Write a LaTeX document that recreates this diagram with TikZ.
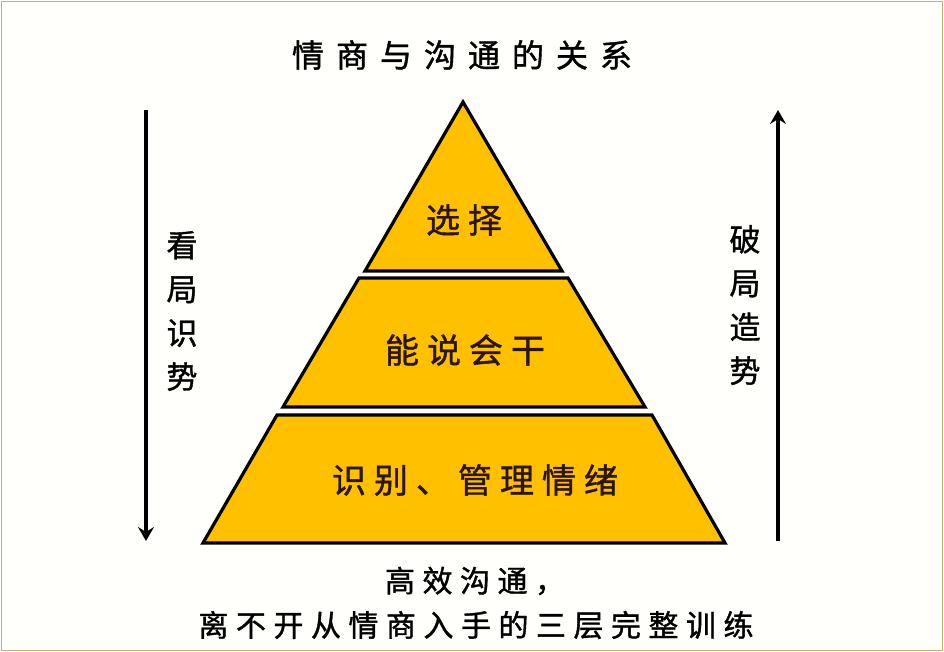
\documentclass[tikz,border=0pt]{standalone}
\usepackage{fontspec}
\newfontfamily\cjk[FakeBold=1.2]{Noto Sans CJK SC}
\usetikzlibrary{arrows.meta}
\definecolor{bgcol}{HTML}{FFFFFB}
\definecolor{bordercol}{HTML}{C2AE7A}
\definecolor{gold}{HTML}{FFC000}
\definecolor{inktext}{HTML}{2A1506}
\makeatletter
\newcommand\spreadtext[2]{\begingroup\def\sp@gap{#1}\let\sp@first\relax\@tfor\sp@c:=#2\do{\ifx\sp@first\relax\let\sp@first\empty\else\hspace{\sp@gap}\fi\sp@c}\endgroup}
\makeatother
\tikzset{
  layer/.style={draw=black, fill=gold, line width=3.2pt, line join=miter},
  layertext/.style={inner sep=0pt, text=inktext, font=\cjk\fontsize{34}{34}\selectfont},
  sidetext/.style={inner sep=0pt, align=center, text=black, font=\cjk\fontsize{31}{43.8}\selectfont},
  plaintext/.style={inner sep=0pt, text=black, font=\cjk\fontsize{30}{30}\selectfont},
  arr/.style={draw=black, line width=3.2pt, -{Stealth[length=14pt,width=16pt,inset=5pt]}}
}
\begin{document}
\begin{tikzpicture}[x=1pt,y=-1pt]
\path[use as bounding box, fill=bgcol] (0,0) rectangle (944,652);
\draw[bordercol, line width=1.3pt] (1.5,1.5) rectangle (942.5,650.5);

% title
\node[inner sep=0pt, text=black, font=\cjk\fontsize{32}{32}\selectfont] (title) at (462,55) {\spreadtext{12pt}{情商与沟通的关系}};

% pyramid layers
\draw[layer] (463,102) -- (562,271) -- (365,271) -- cycle;
\draw[layer] (359,278) -- (568,278) -- (645,407) -- (283,407) -- cycle;
\draw[layer] (277,415) -- (652,415) -- (725,543) -- (203,543) -- cycle;

\node[layertext] (top) at (464,220) {\spreadtext{8pt}{选择}};
\node[layertext] (mid) at (465,350) {\spreadtext{8pt}{能说会干}};
\node[layertext] (base) at (475,480) {\spreadtext{8pt}{识别、管理情绪}};

% side arrows
\coordinate (l1) at (146,110);
\coordinate (l2) at (146,541);
\draw[arr] (l1) -- (l2);
\coordinate (r1) at (778,541);
\coordinate (r2) at (778,110);
\draw[arr] (r1) -- (r2);

\node[sidetext] (left) at (182,311) {看\\局\\识\\势};
\node[sidetext] (right) at (745,305) {破\\局\\造\\势};

% bottom note
\node[plaintext] (note1) at (475,581) {\spreadtext{7.5pt}{高效沟通，}};
\node[plaintext] (note2) at (476,625) {\spreadtext{7.5pt}{离不开从情商入手的三层完整训练}};
\end{tikzpicture}
\end{document}
